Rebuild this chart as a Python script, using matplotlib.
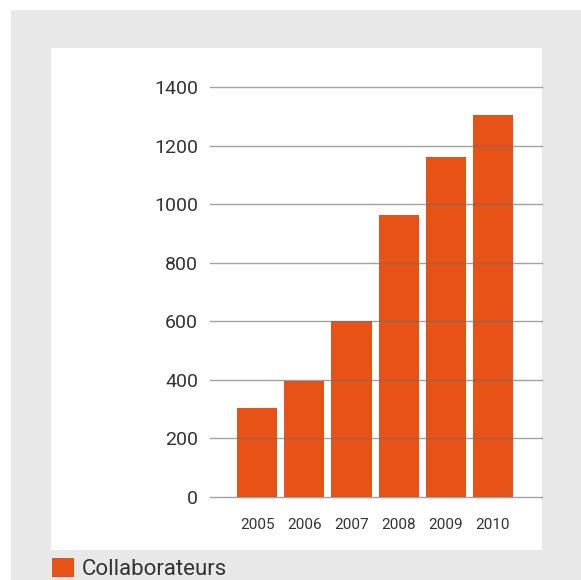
import matplotlib
matplotlib.use("Agg")
import matplotlib.pyplot as plt
from matplotlib.patches import Rectangle

years = ["2005", "2006", "2007", "2008", "2009", "2010"]
staff = [305, 395, 600, 962, 1160, 1305]
yticks = [0, 200, 400, 600, 800, 1000, 1200, 1400]
series_name = "Collaborateurs"

W, H = 581, 580
fig = plt.figure(figsize=(W / 100, H / 100), dpi=100, facecolor="white")
plt.rcParams["font.family"] = ["Roboto", "DejaVu Sans"]

def fx(px):
    return px / W

def fy(py):
    return 1 - py / H

# grey frame and white card
fig.patches.append(Rectangle((fx(11), fy(580)), fx(581) - fx(11), fy(10) - fy(580),
                             transform=fig.transFigure, facecolor="#e8e8e8",
                             edgecolor="none", zorder=0))
fig.patches.append(Rectangle((fx(51), fy(550)), fx(542) - fx(51), fy(48) - fy(550),
                             transform=fig.transFigure, facecolor="white",
                             edgecolor="none", zorder=1))

ax = fig.add_axes([fx(210), fy(497), fx(542) - fx(210), fy(87) - fy(497)])
ax.set_facecolor("none")
ax.set_zorder(2)

x = list(range(len(years)))
bars = ax.bar(x, staff, width=0.85, color="#e85216", zorder=2, label=series_name)

ax.set_ylim(0, 1400)
ax.set_xlim(-1.0, 6.04)
ax.set_yticks(yticks)
ax.set_yticklabels([str(v) for v in yticks])
ax.set_xticks(x)
ax.set_xticklabels(years)

for v in yticks:
    ax.axhline(v, color="#707070", lw=1.0, alpha=0.65, zorder=3, clip_on=False)

for s in ax.spines.values():
    s.set_visible(False)

ax.tick_params(axis="y", length=0, pad=8.5, labelsize=14, labelcolor="#333333")
ax.tick_params(axis="x", length=0, pad=15, labelsize=11, labelcolor="#333333")

fig.legend(handles=[bars], labels=[series_name], loc="lower left",
           bbox_to_anchor=(fx(43), fy(589)), frameon=False, fontsize=16,
           handlelength=1.0, handleheight=1.0, handletextpad=0.35,
           labelcolor="#333333", borderaxespad=0)

fig.savefig("out.png", dpi=100, facecolor="white")
